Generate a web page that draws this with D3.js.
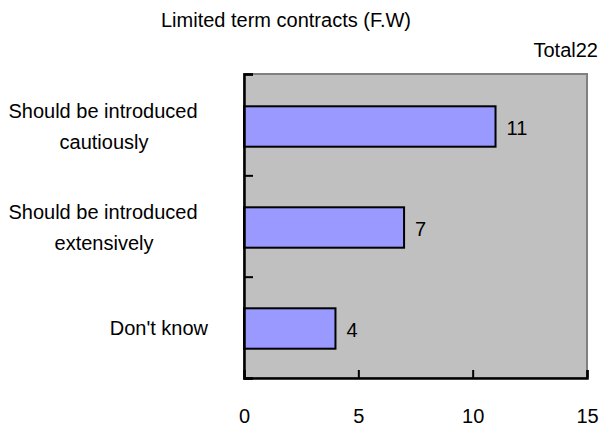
<!DOCTYPE html>
<html><head><meta charset="utf-8">
<script src="https://cdn.jsdelivr.net/npm/d3@7"></script>
<style>body{margin:0;background:#fff}text{font-family:"Liberation Sans",Arial,sans-serif;fill:#000}</style>
</head><body>
<svg id="c" width="612" height="427"></svg>
<script>
const title = "Limited term contracts (F.W)";
const totalLabel = "Total22";
const categories = [["Should be introduced","cautiously"],["Should be introduced","extensively"],["Don't know"]];
const values = [11, 7, 4];
const xTicks = [0, 5, 10, 15];

const svg = d3.select("#c");
const L = 244, R = 587, T = 75, B = 378;
const x = d3.scaleLinear().domain([0, 15]).range([L, R]);
const y = d3.scaleBand().domain(d3.range(categories.length)).range([T, B]).padding(0);
const barH = y.bandwidth() * 0.4;

// plot background
svg.append("rect").attr("x", L).attr("y", T - 1).attr("width", R - L).attr("height", B - T + 1)
  .attr("fill", "#C0C0C0").attr("stroke", "#808080").attr("stroke-width", 2);

// bars
svg.selectAll("rect.bar").data(values).join("rect").attr("class", "bar")
  .attr("x", x(0)).attr("y", (d, i) => y(i) + y.bandwidth() / 2 - barH / 2 + 1)
  .attr("width", d => x(d) - x(0)).attr("height", barH)
  .attr("fill", "#9999FF").attr("stroke", "#000").attr("stroke-width", 2);

// value labels
svg.selectAll("text.val").data(values).join("text").attr("class", "val")
  .attr("x", d => x(d) + 11).attr("y", (d, i) => y(i) + y.bandwidth() / 2 + 9)
  .attr("font-size", 20).text(d => d);

// x axis
const xAxis = d3.axisBottom(x).tickValues(xTicks).tickSize(-8).tickPadding(0).tickFormat(d3.format("d"));
const gx = svg.append("g").attr("transform", `translate(0,${B})`).call(xAxis);
gx.select(".domain").attr("stroke", "#000").attr("stroke-width", 2.5);
gx.selectAll(".tick line").attr("stroke", "#000").attr("stroke-width", 2);
gx.selectAll(".tick text").attr("font-size", 20).attr("y", 45).attr("dy", 0)
  .attr("font-family", '"Liberation Sans",Arial,sans-serif').attr("fill", "#000");

// y axis: ticks at band boundaries
const yb = d3.scaleLinear().domain([0, categories.length]).range([T - 1, B]);
const yAxis = d3.axisLeft(yb).ticks(categories.length).tickSize(-9).tickFormat("");
const gy = svg.append("g").attr("transform", `translate(${L},0)`).call(yAxis);
gy.select(".domain").attr("stroke", "#000").attr("stroke-width", 2.5);
gy.selectAll(".tick line").attr("stroke", "#000").attr("stroke-width", 2);

// category labels
categories.forEach((lines, i) => {
  const cy = y(i) + y.bandwidth() / 2 + 1;
  if (lines.length === 1) {
    svg.append("text").attr("x", 208).attr("y", cy + 6).attr("text-anchor", "end")
      .attr("font-size", 20).text(lines[0]);
  } else {
    const t = svg.append("text").attr("text-anchor", "middle").attr("font-size", 20);
    t.append("tspan").attr("x", 103).attr("y", cy - 8.7).text(lines[0]);
    t.append("tspan").attr("x", 104).attr("y", cy + 22.3).text(lines[1]);
  }
});

// title and total
svg.append("text").attr("x", 286).attr("y", 27).attr("text-anchor", "middle").attr("font-size", 20).text(title);
svg.append("text").attr("x", 598).attr("y", 57).attr("text-anchor", "end").attr("font-size", 20).text(totalLabel);
</script>
</body></html>
